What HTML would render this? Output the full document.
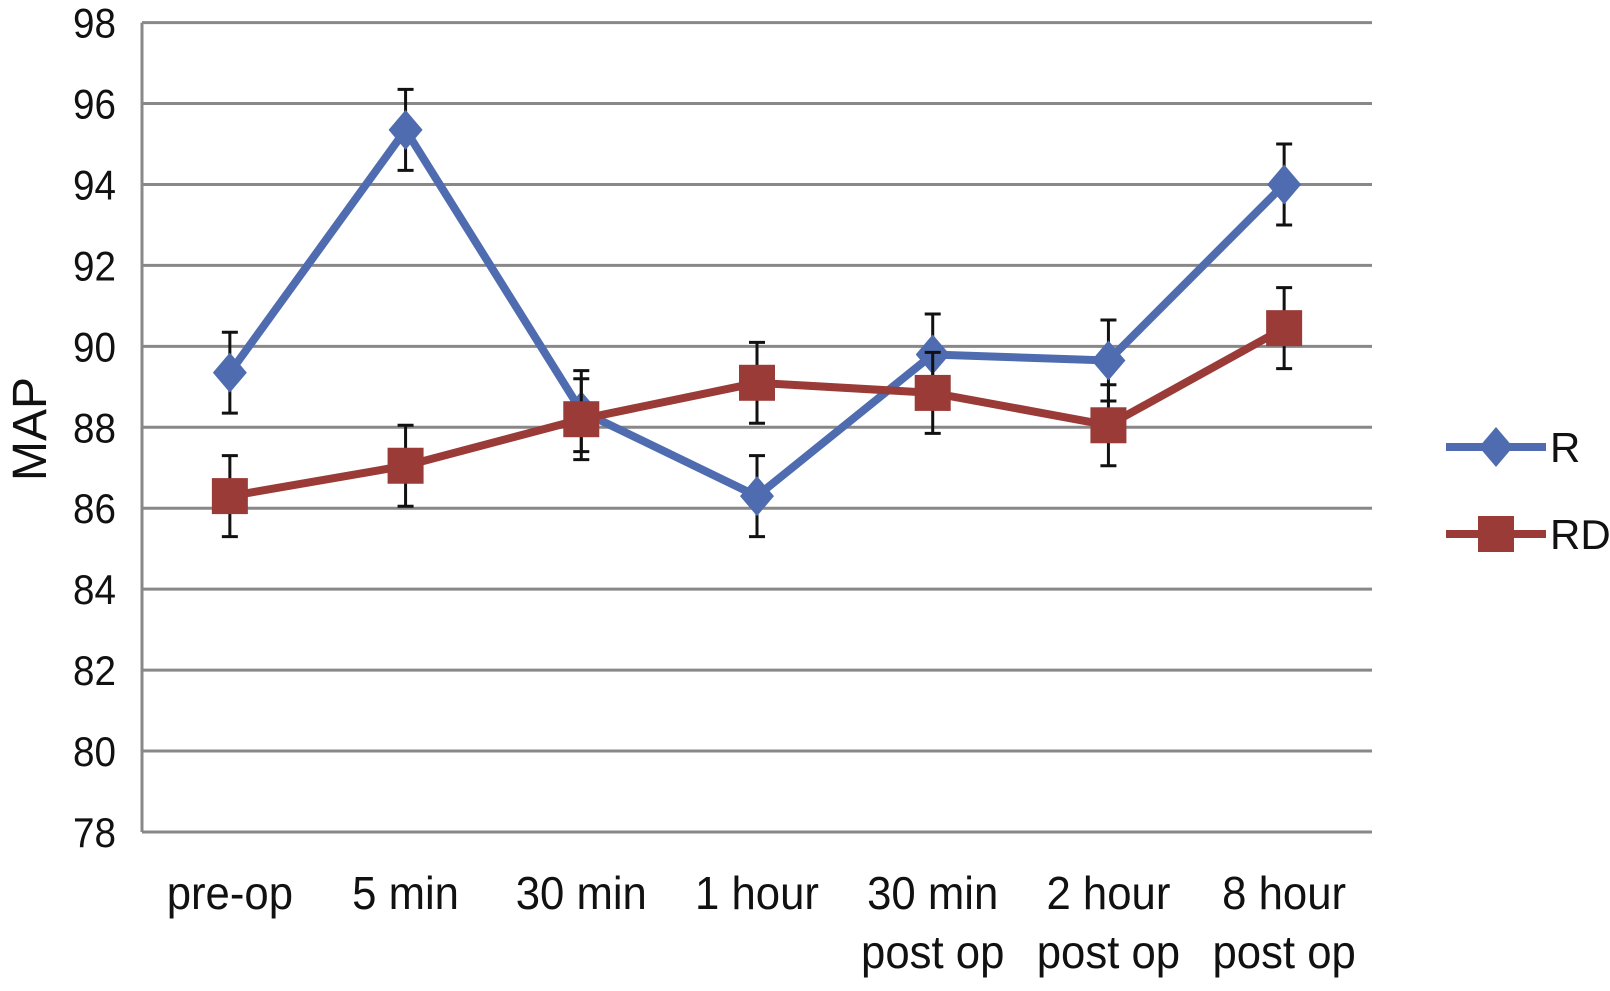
<!DOCTYPE html>
<html><head><meta charset="utf-8"><style>
html,body{margin:0;padding:0;background:#fff;}
svg{display:block;font-family:"Liberation Sans",Arial,sans-serif;}
</style></head><body>
<svg id="chart" width="1610" height="991" viewBox="0 0 1610 991"></svg>
<script>
const categories=[["pre-op"],["5 min"],["30 min"],["1 hour"],["30 min","post op"],["2 hour","post op"],["8 hour","post op"]];
const seriesR=[89.35,95.35,88.4,86.3,89.8,89.65,94.0];
const seriesRD=[86.3,87.05,88.2,89.1,88.85,88.05,90.45];
const errR=[1,1,1,1,1,1,1];
const errRD=[1,1,1,1,1,1,1];
const yTicks=[78,80,82,84,86,88,90,92,94,96,98];
const NS="http://www.w3.org/2000/svg";
const svg=document.getElementById('chart');
const L=142,R=1372,T=22.6,B=832,ymin=78,ymax=98;
const y=v=>B-(v-ymin)/(ymax-ymin)*(B-T);
const bw=(R-L)/categories.length;
const x=i=>L+bw*(i+0.5);
function el(tag,attrs,parent){const e=document.createElementNS(NS,tag);for(const k in attrs)e.setAttribute(k,attrs[k]);(parent||svg).appendChild(e);return e;}
yTicks.forEach(t=>{
 const g=el('line',{x1:L,x2:R,y1:y(t),y2:y(t),stroke:'#888','stroke-width':3});
 
 
 const tx=el('text',{x:116,y:y(t)+15,'text-anchor':'end','font-size':42,fill:'#111',transform:`translate(116,0) scale(0.92,1) translate(-116,0)`});
 tx.textContent=t;
 
 
});
const ax=el('line',{x1:L,x2:L,y1:T,y2:B,stroke:'#888','stroke-width':3});


categories.forEach((c,i)=>{
 c.forEach((line,j)=>{
  const cx=x(i);
  const t=el('text',{x:cx,y:909+j*59,'text-anchor':'middle','font-size':46,fill:'#111',transform:`translate(${cx},0) scale(0.95,1) translate(${-cx},0)`});
  t.textContent=line;
  
  
 });
});
const yt=el('text',{x:0,y:0,transform:'translate(46,429) rotate(-90)','text-anchor':'middle','font-size':48,fill:'#111'});
yt.textContent='MAP';


function series(vals,errs,color,marker,name){
 const g=el('g',{});
 
 
 el('polyline',{points:vals.map((v,i)=>x(i)+','+y(v)).join(' '),fill:'none',stroke:color,'stroke-width':8,'stroke-linejoin':'round'},g);
 vals.forEach((v,i)=>{
  const cx=x(i),cy=y(v),e=errs[i];
  const eb=el('path',{d:`M${cx},${y(v+e)}V${y(v-e)}M${cx-8},${y(v+e)}H${cx+8}M${cx-8},${y(v-e)}H${cx+8}`,stroke:'#111','stroke-width':3,fill:'none'},g);
  
  
  let m;
  if(marker==='diamond') m=el('polygon',{points:`${cx},${cy-20} ${cx+17},${cy} ${cx},${cy+20} ${cx-17},${cy}`,fill:color},g);
  else m=el('rect',{x:cx-18,y:cy-18,width:36,height:36,fill:color},g);
  
  
 });
}
series(seriesR,errR,'#4f6cb0','diamond','r');
series(seriesRD,errRD,'#9a3b38','square','rd');
function legend(ly,color,marker,label){
 const g=el('g',{});
 
 
 el('line',{x1:1446,x2:1546,y1:ly,y2:ly,stroke:color,'stroke-width':8},g);
 if(marker==='diamond') el('polygon',{points:`1496,${ly-20} 1513,${ly} 1496,${ly+20} 1479,${ly}`,fill:color},g);
 else el('rect',{x:1478,y:ly-18,width:36,height:36,fill:color},g);
 const t=el('text',{x:1550,y:ly+15,'font-size':42,fill:'#111'},g);
 t.textContent=label;
}
legend(447,'#4f6cb0','diamond','R');
legend(534,'#9a3b38','square','RD');
</script>
</body></html>
